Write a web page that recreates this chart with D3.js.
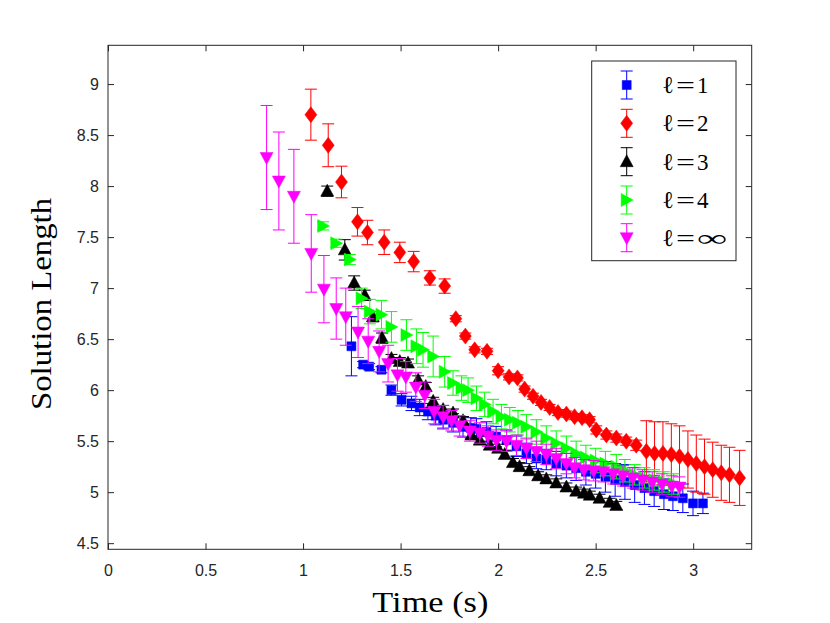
<!DOCTYPE html>
<html>
<head>
<meta charset="utf-8">
<script src="https://cdn.jsdelivr.net/npm/d3@7"></script>
<style>
  html, body { margin: 0; padding: 0; background: #fff; }
</style>
</head>
<body>
<svg id="chart" width="830" height="623"></svg>
<script>
// ---------- data ----------
const xTicks = [0, 0.5, 1, 1.5, 2, 2.5, 3];
const yTicks = [4.5, 5, 5.5, 6, 6.5, 7, 7.5, 8, 8.5, 9];
const seriesNames = ["1", "2", "3", "4", "∞"];

// ℓ=1 (blue squares)
const s1X = [1.248,1.308,1.339,1.402,1.453,1.505,1.556,1.598,1.640,1.680,1.718,1.769,1.820,1.860,1.889,1.940,1.990,2.043,2.094,2.145,2.196,2.247,2.298,2.350,2.400,2.450,2.500,2.550,2.600,2.650,2.700,2.750,2.800,2.850,2.896,2.947,2.999,3.050];
const s1Y = [6.43,6.25,6.23,6.20,6.00,5.905,5.87,5.83,5.79,5.75,5.71,5.68,5.64,5.63,5.62,5.59,5.545,5.51,5.45,5.38,5.33,5.32,5.28,5.26,5.235,5.20,5.18,5.15,5.12,5.10,5.07,5.04,5.01,4.98,4.96,4.94,4.89,4.89];
const s1E = [0.29,0.03,0.03,0.03,0.05,0.06,0.07,0.08,0.08,0.09,0.09,0.09,0.10,0.10,0.10,0.10,0.10,0.10,0.10,0.10,0.10,0.10,0.12,0.12,0.12,0.13,0.14,0.15,0.16,0.17,0.17,0.16,0.15,0.15,0.14,0.14,0.12,0.10];

// ℓ=2 (red diamonds)
const s2X = [1.040,1.129,1.197,1.279,1.330,1.416,1.496,1.567,1.650,1.726,1.783,1.832,1.880,1.943,2.000,2.056,2.099,2.136,2.179,2.220,2.264,2.307,2.350,2.392,2.430,2.469,2.503,2.555,2.606,2.657,2.708,2.760,2.802,2.845,2.888,2.930,2.973,3.016,3.058,3.100,3.144,3.186,3.238];
const s2Y = [8.70,8.40,8.04,7.65,7.545,7.45,7.35,7.26,7.10,7.02,6.70,6.53,6.395,6.38,6.19,6.13,6.12,6.01,5.94,5.88,5.83,5.78,5.765,5.74,5.73,5.71,5.61,5.56,5.53,5.50,5.46,5.40,5.38,5.38,5.37,5.35,5.32,5.28,5.25,5.22,5.19,5.17,5.14];
const s2E = [0.25,0.21,0.155,0.14,0.12,0.12,0.10,0.10,0.07,0.07,0.03,0.03,0.03,0.03,0.04,0.03,0.03,0.03,0.03,0.03,0.03,0.03,0.03,0.03,0.03,0.03,0.04,0.04,0.04,0.04,0.05,0.30,0.31,0.31,0.30,0.30,0.28,0.28,0.27,0.27,0.27,0.27,0.27];

// ℓ=3 (black up-triangles)
const s3X = [1.124,1.214,1.262,1.316,1.358,1.405,1.453,1.496,1.538,1.590,1.629,1.667,1.718,1.769,1.820,1.863,1.906,1.957,2.000,2.034,2.076,2.110,2.160,2.205,2.247,2.298,2.350,2.400,2.440,2.470,2.520,2.572,2.606];
const s3Y = [7.95,7.375,7.05,6.93,6.72,6.51,6.31,6.28,6.265,6.10,6.035,5.89,5.81,5.775,5.70,5.56,5.51,5.46,5.43,5.37,5.29,5.25,5.21,5.16,5.13,5.09,5.05,5.01,4.99,4.97,4.94,4.90,4.87];
const s3E = [0.05,0.10,0.07,0.05,0.05,0.05,0.04,0.04,0.04,0.04,0.04,0.04,0.04,0.04,0.04,0.04,0.04,0.04,0.04,0.04,0.04,0.04,0.04,0.04,0.04,0.04,0.04,0.04,0.04,0.04,0.04,0.04,0.04];

// ℓ=4 (green right-triangles)
const s4X = [1.103,1.170,1.240,1.300,1.342,1.402,1.453,1.530,1.581,1.615,1.667,1.726,1.769,1.812,1.846,1.889,1.931,1.974,2.017,2.060,2.102,2.145,2.196,2.247,2.298,2.350,2.400,2.450,2.500,2.550,2.606,2.650,2.700,2.750,2.800,2.850,2.900];
const s4Y = [7.61,7.44,7.28,6.90,6.77,6.74,6.62,6.54,6.43,6.395,6.33,6.18,6.07,6.02,6.00,5.92,5.86,5.79,5.74,5.71,5.68,5.64,5.59,5.53,5.48,5.43,5.38,5.34,5.31,5.28,5.25,5.21,5.17,5.14,5.12,5.10,5.08];
const s4E = [0.04,0.04,0.05,0.10,0.12,0.14,0.15,0.15,0.17,0.17,0.20,0.15,0.12,0.12,0.12,0.12,0.12,0.12,0.12,0.12,0.12,0.12,0.12,0.12,0.12,0.12,0.12,0.12,0.12,0.12,0.12,0.11,0.10,0.10,0.10,0.10,0.10];

// ℓ=∞ (magenta down-triangles)
const s5X = [0.813,0.876,0.953,1.042,1.107,1.170,1.219,1.282,1.334,1.390,1.436,1.484,1.527,1.578,1.624,1.672,1.718,1.761,1.803,1.855,1.906,1.948,1.991,2.043,2.094,2.145,2.196,2.247,2.298,2.350,2.392,2.440,2.490,2.540,2.590,2.640,2.690,2.740,2.790,2.840,2.890,2.930];
const s5Y = [8.28,8.05,7.90,7.34,6.99,6.80,6.72,6.57,6.48,6.38,6.26,6.15,6.13,6.03,5.95,5.79,5.74,5.70,5.65,5.60,5.58,5.55,5.51,5.50,5.46,5.43,5.40,5.37,5.33,5.28,5.24,5.22,5.21,5.20,5.18,5.16,5.14,5.12,5.10,5.08,5.06,5.05];
const s5E = [0.51,0.48,0.46,0.38,0.33,0.30,0.28,0.25,0.22,0.20,0.18,0.16,0.15,0.14,0.13,0.12,0.11,0.10,0.10,0.10,0.10,0.10,0.10,0.10,0.10,0.10,0.10,0.10,0.10,0.10,0.10,0.10,0.10,0.10,0.10,0.10,0.10,0.10,0.10,0.10,0.10,0.10];

// ---------- styles ----------
const colors = ["#0000ff", "#ff0000", "#000000", "#00ff00", "#ff00ff"];
const markerPaths = [
  "M-4.5,-4.5H4.5V4.5H-4.5Z",              // square
  "M0,-8L6,0L0,8L-6,0Z",                   // diamond
  "M0,-7L6.5,5L-6.5,5Z",                   // triangle up
  "M6.5,0L-5.5,-6.5L-5.5,6.5Z",            // triangle right
  "M0,7L6.5,-5L-6.5,-5Z"                   // triangle down
];

const series = [
  {x: s1X, y: s1Y, e: s1E},
  {x: s2X, y: s2Y, e: s2E},
  {x: s3X, y: s3Y, e: s3E},
  {x: s4X, y: s4Y, e: s4E},
  {x: s5X, y: s5Y, e: s5E}
];

// ---------- layout ----------
const L = 108, R = 751.7, T = 45.3, B = 549.3;
const svg = d3.select("#chart");
svg.append("rect").attr("width", 830).attr("height", 623).attr("fill", "#fff");

const x = d3.scaleLinear().domain([0, 3.3]).range([L, R]);
const y = d3.scaleLinear().domain([4.44, 9.38]).range([B, T]);

const axisColor = "#262626";
const tickFont = "'Liberation Sans', Arial, Helvetica, sans-serif";
const serif = "'Liberation Serif', 'Times New Roman', serif";

svg.append("rect").attr("x", L).attr("y", T).attr("width", R - L).attr("height", B - T)
  .attr("fill", "#fff");

// data
const capW = 6;
const plot = svg.append("g");
series.forEach((s, i) => {
  const g = plot.append("g");
  const pts = s.x.map((xv, k) => ({x: xv, y: s.y[k], e: s.e[k]}));
  const eb = g.append("g").attr("stroke", colors[i]).attr("stroke-width", 1).attr("fill", "none");
  pts.forEach(p => {
    const cx = x(p.x), y1 = y(p.y + p.e), y0 = y(p.y - p.e);
    eb.append("line").attr("x1", cx).attr("x2", cx).attr("y1", y1).attr("y2", y0);
    eb.append("line").attr("x1", cx - capW).attr("x2", cx + capW).attr("y1", y1).attr("y2", y1);
    eb.append("line").attr("x1", cx - capW).attr("x2", cx + capW).attr("y1", y0).attr("y2", y0);
  });
  g.append("g").selectAll("path").data(pts).join("path")
    .attr("d", markerPaths[i])
    .attr("transform", p => `translate(${x(p.x)},${y(p.y)})`)
    .attr("fill", colors[i]).attr("stroke", colors[i]).attr("stroke-width", 0.5);
});

// axes
function styleAxis(g) {
  g.selectAll(".domain").remove();
  g.selectAll(".tick line").attr("stroke", axisColor).attr("stroke-width", 1);
  g.selectAll(".tick text").attr("fill", axisColor).attr("font-family", tickFont).attr("font-size", 16);
}
svg.append("g").attr("transform", `translate(0,${B})`)
  .call(d3.axisBottom(x).tickValues(xTicks).tickSize(-6).tickPadding(15).tickFormat(d3.format("")))
  .call(styleAxis);
svg.append("g").attr("transform", `translate(0,${T})`)
  .call(d3.axisTop(x).tickValues(xTicks).tickSize(-6).tickFormat(""))
  .call(styleAxis);
svg.append("g").attr("transform", `translate(${L},0)`)
  .call(d3.axisLeft(y).tickValues(yTicks).tickSize(-6).tickPadding(9).tickFormat(d3.format("")))
  .call(styleAxis);
svg.append("g").attr("transform", `translate(${R},0)`)
  .call(d3.axisRight(y).tickValues(yTicks).tickSize(-6).tickFormat(""))
  .call(styleAxis);

// box
svg.append("rect").attr("x", L).attr("y", T).attr("width", R - L).attr("height", B - T)
  .attr("fill", "none").attr("stroke", axisColor).attr("stroke-width", 1);

// axis labels
svg.append("text").attr("x", (L + R) / 2 + 0.5).attr("y", 612)
  .attr("text-anchor", "middle").attr("font-family", serif).attr("font-size", 29)
  .attr("fill", "#000").attr("textLength", 116).attr("lengthAdjust", "spacingAndGlyphs")
  .text("Time (s)");
svg.append("text").attr("transform", `translate(51,304) rotate(-90)`)
  .attr("text-anchor", "middle").attr("font-family", serif).attr("font-size", 29)
  .attr("fill", "#000").attr("textLength", 212).attr("lengthAdjust", "spacingAndGlyphs")
  .text("Solution Length");

// legend
const lg = svg.append("g");
lg.append("rect").attr("x", 591.7).attr("y", 61).attr("width", 144.3).attr("height", 199.7)
  .attr("fill", "#fff").attr("stroke", axisColor).attr("stroke-width", 1);
const legY = [85, 123.3, 161.7, 200, 237.7];
seriesNames.forEach((name, i) => {
  const cy = legY[i], cx = 626.7;
  const e = lg.append("g").attr("stroke", colors[i]).attr("stroke-width", 1);
  e.append("line").attr("x1", cx).attr("x2", cx).attr("y1", cy - 14).attr("y2", cy + 14);
  e.append("line").attr("x1", cx - capW).attr("x2", cx + capW).attr("y1", cy - 14).attr("y2", cy - 14);
  e.append("line").attr("x1", cx - capW).attr("x2", cx + capW).attr("y1", cy + 14).attr("y2", cy + 14);
  lg.append("path").attr("d", markerPaths[i]).attr("transform", `translate(${cx},${cy})`)
    .attr("fill", colors[i]).attr("stroke", colors[i]).attr("stroke-width", 0.5);
  const base = cy + 8;
  lg.append("text").attr("x", 662).attr("y", base).attr("font-family", serif)
    .attr("font-size", 24).attr("fill", "#000").text("ℓ");
  lg.append("text").attr("x", 676).attr("y", base).attr("font-family", serif)
    .attr("font-size", 23).attr("fill", "#000")
    .attr("textLength", 19).attr("lengthAdjust", "spacingAndGlyphs").text("=");
  const t = lg.append("text").attr("x", 697).attr("y", base).attr("font-family", serif)
    .attr("font-size", 23).attr("fill", "#000").text(name);
  if (name === "∞") t.attr("textLength", 30).attr("lengthAdjust", "spacingAndGlyphs");
});
</script>
</body>
</html>
